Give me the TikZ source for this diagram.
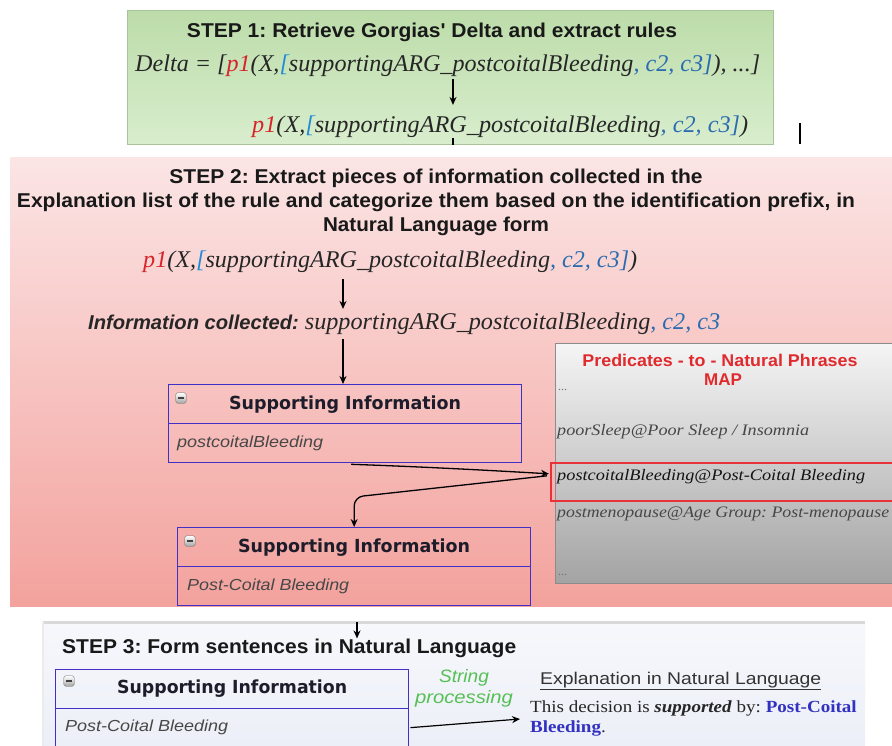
\documentclass[tikz,border=0pt]{standalone}
\usepackage{fontspec}
\setmainfont{Liberation Serif}
\setsansfont{Liberation Sans}[Ligatures=TeXOff]
\newfontfamily\dvsans{DejaVu Sans}
\usepackage{graphicx}
\usetikzlibrary{arrows.meta,calc}
\frenchspacing

\definecolor{sonetop}{HTML}{BCDCA9}
\definecolor{sonebot}{HTML}{D8EDCD}
\definecolor{soneedge}{HTML}{A9C29A}
\definecolor{stwotop}{HTML}{FBE5E5}
\definecolor{stwobot}{HTML}{F3A29D}
\definecolor{sthreetop}{HTML}{F7F8FC}
\definecolor{sthreebot}{HTML}{EBEEF7}
\definecolor{predred}{HTML}{D9232A}
\definecolor{brkblue}{HTML}{1E8AD8}
\definecolor{argblue}{HTML}{2B6CB0}
\definecolor{boxblue}{HTML}{4030C8}
\definecolor{hdrtext}{HTML}{1C1C2A}
\definecolor{maptitle}{HTML}{E02A2E}
\definecolor{hlred}{HTML}{E8323A}
\definecolor{strgreen}{HTML}{55C055}
\definecolor{nlblue}{HTML}{3232C2}

% stretch a line of text to a given width, keeping its height
\newcommand\fitw[2]{\resizebox{#1pt}{\height}{#2}}

\begin{document}
\begin{tikzpicture}[x=1pt,y=-1pt,
  arr/.style={-{Stealth[length=8pt,width=7pt]}, line width=1.3pt, black},
  steptitle/.style={font=\sffamily\bfseries\fontsize{20}{24}\selectfont, inner sep=0pt, text=black!90},
  code/.style={font=\itshape\fontsize{24}{28}\selectfont, inner sep=0pt, text=black!85},
  sibox/.style={draw=boxblue, line width=1.3pt, minimum width=353pt, minimum height=78pt, inner sep=0pt, anchor=north west},
  hdr/.style={font=\dvsans\bfseries\fontsize{18}{22}\selectfont, inner sep=0pt, text=hdrtext},
  body/.style={font=\sffamily\itshape\fontsize{16}{20}\selectfont, inner sep=0pt, text=black!72, anchor=west},
  mapline/.style={font=\itshape\fontsize{16}{20}\selectfont, inner sep=0pt, text=black!72, anchor=west},
  dots/.style={font=\fontsize{12}{13}\selectfont, inner sep=0pt, text=black!55, anchor=west},
  minusicon/.style={draw=black!60, rounded corners=1.8pt, minimum size=10.5pt, inner sep=0pt,
    top color=white, bottom color=black!35,
    path picture={\draw[line width=1.4pt, black!75]
      ($(path picture bounding box.west)+(2.4pt,0)$) -- ($(path picture bounding box.east)+(-2.4pt,0)$);}},
]
\useasboundingbox (0,0) rectangle (892,745);
\fill[white] (0,0) rectangle (892,745);

% ---------------- STEP 1 ----------------
\shadedraw[top color=sonetop, bottom color=sonebot, draw=soneedge, line width=0.6pt] (127,10) rectangle (773,144);
\node[steptitle] (t1) at (432,32) {\fitw{490}{STEP 1: Retrieve Gorgias' Delta and extract rules}};
\node[code, anchor=west] (delta) at (135,66) {\fitw{625}{Delta = [\textcolor{predred}{p1}(X,\textcolor{brkblue}{[}supportingARG\_postcoitalBleeding\textcolor{argblue}{, c2, c3]}), ...]}};
\node[code, anchor=west] (rule1) at (252,127) {\fitw{496}{\textcolor{predred}{p1}(X,\textcolor{brkblue}{[}supportingARG\_postcoitalBleeding\textcolor{argblue}{, c2, c3]})}};
\coordinate (axa) at (453,0);
\draw[arr, shorten <=2pt, shorten >=11pt] (delta.south -| axa) -- (rule1.north -| axa);
\draw[line width=1.3pt] (rule1.south -| axa) -- ++(0,7);
\draw[line width=2.2pt] (800,123) -- (800,144);

% ---------------- STEP 2 ----------------
\shade[top color=stwotop, bottom color=stwobot] (10,157) rectangle (892,606);
\node[steptitle] (t2a) at (436,178) {\fitw{533}{STEP 2: Extract pieces of information collected in the}};
\node[steptitle] (t2b) at (436,202) {\fitw{838}{Explanation list of the rule and categorize them based on the identification prefix, in}};
\node[steptitle] (t2c) at (436,226) {\fitw{226}{Natural Language form}};
\node[code, anchor=west] (rule2) at (143,262) {\fitw{494}{\textcolor{predred}{p1}(X,\textcolor{brkblue}{[}supportingARG\_postcoitalBleeding\textcolor{argblue}{, c2, c3]})}};
\node[code, anchor=west] (info) at (88,324) {\fitw{632}{{\sffamily\bfseries\fontsize{20}{24}\selectfont Information collected:} supportingARG\_postcoitalBleeding\textcolor{argblue}{, c2, c3}}};
\coordinate (axb) at (343,0);
\draw[arr, shorten <=6pt, shorten >=4pt] (rule2.south -| axb) -- (info.north -| axb);

% raw box
\node[sibox] (b1) at (168,384) {};
\draw[boxblue, line width=1.3pt] (b1.west) -- (b1.east);
\node[minusicon] at ($(b1.north west)+(13,14)$) {};
\node[hdr] (b1h) at ($(b1.north)+(0,21)$) {\fitw{232}{Supporting Information}};
\node[body] (b1t) at ($(b1.west)+(9,20)$) {\fitw{146}{postcoitalBleeding}};
\draw[arr, shorten <=4pt] (info.south -| axb) -- (b1.north -| axb);

% predicate map
\node[draw=black!45, line width=0.8pt, top color=black!4, bottom color=black!36,
      minimum width=345pt, minimum height=240pt, inner sep=0pt, anchor=north west] (map) at (555,343) {};
\node[font=\sffamily\bfseries\fontsize{17}{20}\selectfont, text=maptitle, inner sep=0pt] (mapt) at (720,360) {\fitw{275}{Predicates - to - Natural Phrases}};
\node[font=\sffamily\bfseries\fontsize{17}{20}\selectfont, text=maptitle, inner sep=0pt] (mapm) at (723,380) {MAP};
\node[dots] (d1) at (558,390) {...};
\node[mapline] (m1) at (557,432) {\fitw{252}{poorSleep@Poor Sleep / Insomnia}};
\node[draw=hlred, line width=1.6pt, minimum width=350pt, minimum height=38pt, inner sep=0pt, anchor=north west] (hl) at (550,462) {};
\node[mapline, text=black!92] (m2) at (557,477) {\fitw{308}{postcoitalBleeding@Post-Coital Bleeding}};
\node[mapline] (m3) at (557,514) {\fitw{332}{postmenopause@Age Group: Post-menopause}};
\node[dots] (d2) at (558,575) {...};

% translated box
\node[sibox] (b2) at (177,527) {};
\draw[boxblue, line width=1.3pt] (b2.west) -- (b2.east);
\node[minusicon] at ($(b2.north west)+(13,14)$) {};
\node[hdr] (b2h) at ($(b2.north)+(0,21)$) {\fitw{232}{Supporting Information}};
\node[body] (b2t) at ($(b2.west)+(10,20)$) {\fitw{162}{Post-Coital Bleeding}};

% lookup and substitution
\draw[arr] ($(b1.south)+(6,1)$) .. controls (430,467) and (500,471) .. ($(hl.west)+(-1,-8)$);
\draw[arr, rounded corners=9pt] ($(hl.west)+(-3,-6)$) -- (b2.north |- 0,497) -- (b2.north);

% ---------------- STEP 3 ----------------
\shade[top color=sthreetop, bottom color=sthreebot] (43,621) rectangle (865,760);
\draw[black!15, line width=3pt] (43,622) -- (865,622);
\draw[black!8, line width=1.5pt] (43,622) -- (43,760);
\coordinate (axc) at (357,622);
\node[steptitle, anchor=west] (t3) at (62,648) {\fitw{454}{STEP 3: Form sentences in Natural Language}};
\draw[arr, line width=1.2pt] (axc) -- (axc |- t3.north);

\node[sibox] (b3) at (55,669) {};
\draw[boxblue, line width=1.3pt] (b3.west) -- (b3.east);
\node[minusicon] at ($(b3.north west)+(14,12)$) {};
\node[hdr] (b3h) at ($(b3.north)+(0,20)$) {\fitw{230}{Supporting Information}};
\node[body] (b3t) at ($(b3.west)+(10,19)$) {\fitw{163}{Post-Coital Bleeding}};

\node[font=\sffamily\itshape\fontsize{18}{21}\selectfont, text=strgreen, align=center, inner sep=0pt] (sp) at (464,688) {\fitw{50}{String}\\\fitw{98}{processing}};
\node[font=\sffamily\fontsize{17}{20}\selectfont, text=black!80, inner sep=0pt, anchor=west] (exh) at (540,681) {\fitw{281}{\underline{Explanation in Natural Language}}};
\node[font=\fontsize{17}{20}\selectfont, text=black!85, inner sep=0pt, anchor=north west, align=left] (sent) at (530,700)
  {\scalebox{1.12}[1]{This decision is \textit{\textbf{supported}} by: \textcolor{nlblue}{\textbf{Post-Coital}}}\\\scalebox{1.12}[1]{\textcolor{nlblue}{\textbf{Bleeding}}.}};
\draw[arr, line width=1.2pt] ($(b3.east)+(1,19)$) -- ($(sent.north west)+(-10,19)$);
\end{tikzpicture}
\end{document}
